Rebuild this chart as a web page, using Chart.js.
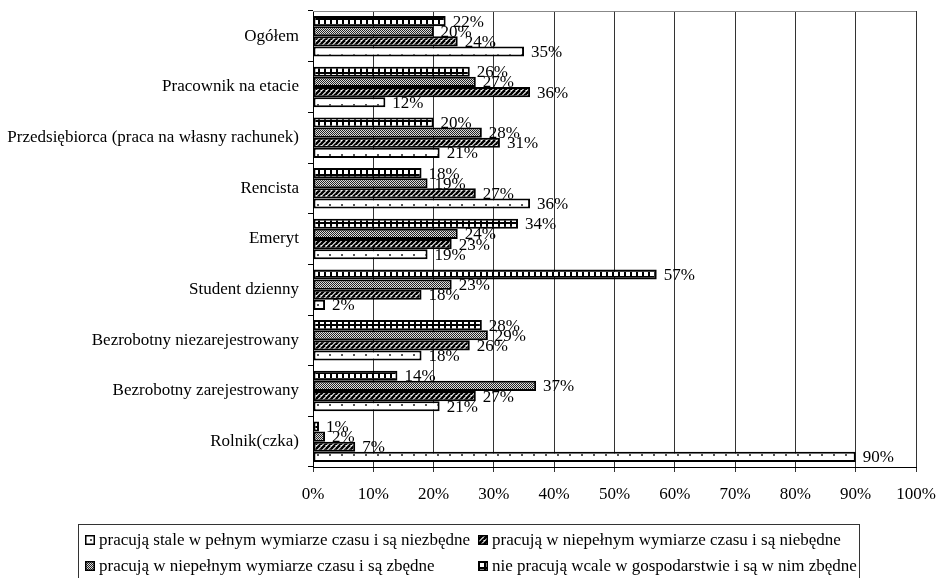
<!DOCTYPE html>
<html>
<head>
<meta charset="utf-8">
<script src="https://cdn.jsdelivr.net/npm/chart.js@4.4.0/dist/chart.umd.min.js"></script>
<style>
    body { margin: 0; background: #fff; }
    #wrap { position: relative; width: 940px; height: 578px; overflow: hidden; }
    #legend { position: absolute; left: 78px; top: 524px; width: 782px; height: 80px; border: 1px solid #333; box-sizing: border-box; font-family: 'Liberation Serif', 'Times New Roman', serif; font-size: 17px; color: #000; }
    #legend .item { position: absolute; height: 20px; line-height: 20px; white-space: nowrap; }
    #legend canvas { position: absolute; left: 0; top: 5px; }
    #legend span { position: absolute; left: 14px; top: 0; }
</style>
</head>
<body>
<div id="wrap">
    <canvas id="OdpowiedziChart" width="940" height="578"></canvas>
    <div id="legend"></div>
</div>
<script>
var categories = [
    "Ogółem",
    "Pracownik na etacie",
    "Przedsiębiorca (praca na własny rachunek)",
    "Rencista",
    "Emeryt",
    "Student dzienny",
    "Bezrobotny niezarejestrowany",
    "Bezrobotny zarejestrowany",
    "Rolnik(czka)"
];
var seriesLabels = [
    "pracują stale w pełnym wymiarze czasu i są niezbędne",
    "pracują w niepełnym wymiarze czasu i są niebędne",
    "pracują w niepełnym wymiarze czasu i są zbędne",
    "nie pracują wcale w gospodarstwie i są w nim zbędne"
];
var stalePelny = [35, 12, 21, 36, 19, 2, 18, 21, 90];
var niepelnyNiezbedne = [24, 36, 31, 27, 23, 18, 26, 27, 7];
var niepelnyZbedne = [20, 27, 28, 19, 24, 23, 29, 37, 2];
var nieWcale = [22, 26, 20, 18, 34, 57, 28, 14, 1];
var xTicks = [0, 10, 20, 30, 40, 50, 60, 70, 80, 90, 100];

// wzory wypełnienia słupków (jak w wydruku czarno-białym)
function makePattern(type) {
    var c = document.createElement("canvas");
    var g = c.getContext("2d");
    if (type === "dots") {
        c.width = 12; c.height = 10;
        g.fillStyle = "#fff"; g.fillRect(0, 0, 12, 10);
        g.fillStyle = "#555"; g.fillRect(5, 4, 2, 2);
    } else if (type === "diag") {
        c.width = 5; c.height = 5;
        g.fillStyle = "#fff"; g.fillRect(0, 0, 5, 5);
        g.strokeStyle = "#000"; g.lineWidth = 2.6;
        for (var k = -5; k <= 10; k += 5) {
            g.beginPath(); g.moveTo(k - 5, 10); g.lineTo(k + 5, 0); g.stroke();
        }
    } else if (type === "stipple") {
        c.width = 4; c.height = 4;
        g.fillStyle = "#ddd"; g.fillRect(0, 0, 4, 4);
        g.fillStyle = "#222";
        for (var i = 0; i < 4; i++) {
            for (var j = 0; j < 4; j++) {
                if ((i + j) % 2 === 0) g.fillRect(i, j, 1, 1);
            }
        }
    } else {
        c.width = 6; c.height = 6;
        g.fillStyle = "#fff"; g.fillRect(0, 0, 6, 6);
        g.fillStyle = "#000";
        g.fillRect(0, 0, 6, 2);
        g.fillRect(0, 0, 2, 6);
    }
    return c;
}

var ctx = document.getElementById("OdpowiedziChart").getContext("2d");
var patternTypes = ["dots", "diag", "stipple", "grid"];
var fills = patternTypes.map(function (t) {
    return ctx.createPattern(makePattern(t), "repeat");
});

Chart.defaults.font.family = "'Liberation Serif', 'Times New Roman', serif";
Chart.defaults.font.size = 17;
Chart.defaults.color = "#000";

var valueLabels = {
    id: "valueLabels",
    afterDatasetsDraw: function (chart) {
        var c = chart.ctx;
        c.save();
        c.font = "17px 'Liberation Serif', 'Times New Roman', serif";
        c.fillStyle = "#000";
        c.textBaseline = "middle";
        c.textAlign = "left";
        chart.data.datasets.forEach(function (ds, di) {
            chart.getDatasetMeta(di).data.forEach(function (bar, i) {
                c.fillText(ds.data[i] + "%", bar.x + 7, bar.y + 1);
            });
        });
        c.restore();
    }
};

var topBorder = {
    id: "topBorder",
    beforeDatasetsDraw: function (chart) {
        var a = chart.chartArea;
        var c = chart.ctx;
        c.save();
        c.strokeStyle = "#888";
        c.lineWidth = 1;
        c.beginPath();
        c.moveTo(a.left, a.top + 0.5);
        c.lineTo(a.right, a.top + 0.5);
        c.stroke();
        c.restore();
    }
};

// w wykresie poziomym Excel rysuje serie od dołu, więc kolejność odwrócona
var order = [3, 2, 1, 0];
var seriesData = [stalePelny, niepelnyNiezbedne, niepelnyZbedne, nieWcale];

var chart = new Chart(ctx, {
    type: "bar",
    data: {
        labels: categories,
        datasets: order.map(function (s) {
            return {
                label: seriesLabels[s],
                data: seriesData[s],
                backgroundColor: fills[s],
                borderColor: "#000",
                borderWidth: 2,
                borderSkipped: false,
                categoryPercentage: 0.8,
                barPercentage: 1.0
            };
        })
    },
    options: {
        indexAxis: "y",
        responsive: false,
        animation: false,
        layout: {
            padding: { top: 11, right: 24, bottom: 71, left: 0 }
        },
        plugins: {
            legend: { display: false },
            tooltip: { enabled: false }
        },
        scales: {
            x: {
                min: 0,
                max: 100,
                afterFit: function (scale) {
                    scale.height = 40;
                    scale.paddingLeft = 0;
                    scale.paddingRight = 0;
                },
                afterBuildTicks: function (scale) {
                    scale.ticks = xTicks.map(function (v) { return { value: v }; });
                },
                ticks: {
                    padding: 12,
                    maxRotation: 0,
                    callback: function (v) { return v + "%"; }
                },
                grid: {
                    color: "#333",
                    lineWidth: 1,
                    tickLength: 5
                },
                border: { color: "#000", width: 1 }
            },
            y: {
                afterFit: function (scale) {
                    scale.width = 313;
                    scale.paddingTop = 0;
                    scale.paddingBottom = 0;
                },
                ticks: { padding: 9 },
                grid: {
                    drawOnChartArea: false,
                    color: "#000",
                    tickLength: 5,
                    offset: true
                },
                border: { color: "#000", width: 1 }
            }
        }
    },
    plugins: [valueLabels, topBorder]
});

// legenda w ramce, dwie kolumny
var legendPos = [
    { left: 6, top: 5 },
    { left: 399, top: 5 },
    { left: 6, top: 31 },
    { left: 399, top: 31 }
];
var legendBox = document.getElementById("legend");
seriesLabels.forEach(function (lab, s) {
    var item = document.createElement("div");
    item.className = "item";
    item.style.left = legendPos[s].left + "px";
    item.style.top = legendPos[s].top + "px";
    var m = document.createElement("canvas");
    m.width = 10; m.height = 10;
    var mg = m.getContext("2d");
    mg.fillStyle = mg.createPattern(makePattern(patternTypes[s]), "repeat");
    mg.fillRect(0, 0, 10, 10);
    mg.strokeStyle = "#000";
    mg.lineWidth = 1.5;
    mg.strokeRect(0.75, 0.75, 8.5, 8.5);
    var t = document.createElement("span");
    t.textContent = lab;
    item.appendChild(m);
    item.appendChild(t);
    legendBox.appendChild(item);
});
</script>
</body>
</html>
